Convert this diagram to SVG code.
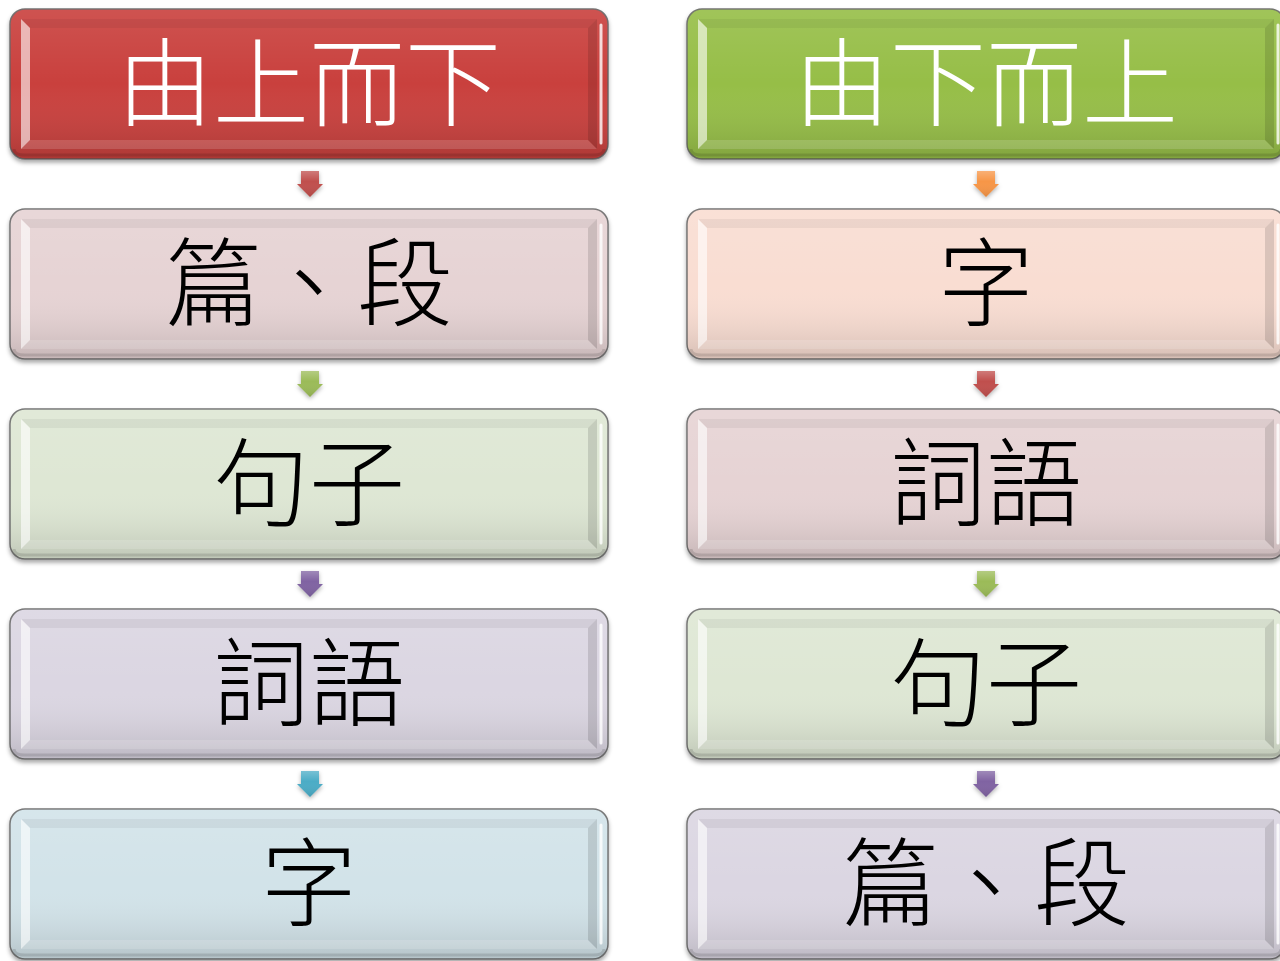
<svg xmlns="http://www.w3.org/2000/svg" xmlns:xlink="http://www.w3.org/1999/xlink" width="1280" height="961" viewBox="0 0 1280 961">
<style>
  .box { stroke: #5e5e5e; stroke-width: 1.5; stroke-opacity: 0.85; }
  .lbl { font-family: "Noto Sans CJK TC", "Noto Sans CJK SC", sans-serif; font-size: 96px; font-weight: 300; text-anchor: middle; dominant-baseline: central; fill: #000; }
  .lbl.w { fill: #fff; }
  .arr { filter: url(#ashadow); }
</style>
<defs>
  <filter id="shadow" x="-5%" y="-10%" width="110%" height="125%">
    <feDropShadow dx="0" dy="3" stdDeviation="2" flood-color="#000" flood-opacity="0.35"/>
  </filter>
  <filter id="ashadow" x="-50%" y="-50%" width="200%" height="200%">
    <feDropShadow dx="0" dy="2" stdDeviation="2" flood-color="#000" flood-opacity="0.3"/>
  </filter>
  <linearGradient id="shade" x1="0" y1="0" x2="0" y2="1">
    <stop offset="0" stop-color="#fff" stop-opacity="0.1"/>
    <stop offset="0.5" stop-color="#fff" stop-opacity="0"/>
    <stop offset="1" stop-color="#000" stop-opacity="0.14"/>
  </linearGradient>
  <linearGradient id="ashade" x1="0" y1="0" x2="0" y2="1">
    <stop offset="0" stop-color="#fff" stop-opacity="0.25"/>
    <stop offset="0.4" stop-color="#fff" stop-opacity="0"/>
    <stop offset="1" stop-color="#000" stop-opacity="0.1"/>
  </linearGradient>
  <g id="bevel">
    <rect x="0" y="0" width="598" height="150" rx="15" fill="url(#shade)"/>
    <polygon points="11,10 587,10 578,19 20,19" fill="#000" fill-opacity="0.05"/>
    <polygon points="11,140 20,131 578,131 587,140" fill="#fff" fill-opacity="0.15"/>
    <polygon points="587,10 587,140 578,131 578,19" fill="#000" fill-opacity="0.12"/>
    <polygon points="11,10 20,19 20,131 11,140" fill="#fff" fill-opacity="0.6"/>
    <line x1="591" y1="16" x2="591" y2="134" stroke="#fff" stroke-width="3" stroke-opacity="0.8" stroke-linecap="round"/>
    <path d="M4,140 Q4,146 15,146 H583 Q594,146 594,140" fill="none" stroke="#000" stroke-opacity="0.12" stroke-width="3"/>
  </g>
</defs>
<rect width="1280" height="961" fill="#fff"/>

<g id="connectors">
  <g class="arr">
    <path d="M301,171 h18 v13 h4 l-13,13 l-13,-13 h4 z" fill="#c0504d"/>
    <path d="M301,371 h18 v13 h4 l-13,13 l-13,-13 h4 z" fill="#9bbb59"/>
    <path d="M301,571 h18 v13 h4 l-13,13 l-13,-13 h4 z" fill="#8064a2"/>
    <path d="M301,771 h18 v13 h4 l-13,13 l-13,-13 h4 z" fill="#4bacc6"/>
    <path d="M977,171 h18 v13 h4 l-13,13 l-13,-13 h4 z" fill="#f79646"/>
    <path d="M977,371 h18 v13 h4 l-13,13 l-13,-13 h4 z" fill="#c0504d"/>
    <path d="M977,571 h18 v13 h4 l-13,13 l-13,-13 h4 z" fill="#9bbb59"/>
    <path d="M977,771 h18 v13 h4 l-13,13 l-13,-13 h4 z" fill="#8064a2"/>
  </g>
  <g fill="url(#ashade)">
    <path d="M301,171 h18 v13 h4 l-13,13 l-13,-13 h4 z"/>
    <path d="M301,371 h18 v13 h4 l-13,13 l-13,-13 h4 z"/>
    <path d="M301,571 h18 v13 h4 l-13,13 l-13,-13 h4 z"/>
    <path d="M301,771 h18 v13 h4 l-13,13 l-13,-13 h4 z"/>
    <path d="M977,171 h18 v13 h4 l-13,13 l-13,-13 h4 z"/>
    <path d="M977,371 h18 v13 h4 l-13,13 l-13,-13 h4 z"/>
    <path d="M977,571 h18 v13 h4 l-13,13 l-13,-13 h4 z"/>
    <path d="M977,771 h18 v13 h4 l-13,13 l-13,-13 h4 z"/>
  </g>
</g>

<g id="left-title" transform="translate(10,9)">
  <rect class="box" width="598" height="150" rx="15" fill="#c9403e" filter="url(#shadow)"/>
  <use xlink:href="#bevel"/>
  <text class="lbl w" x="299" y="67">由上而下</text>
</g>
<g id="left-1" transform="translate(10,209)">
  <rect class="box" width="598" height="150" rx="15" fill="#e6d3d4" filter="url(#shadow)"/>
  <use xlink:href="#bevel"/>
  <text class="lbl" x="299" y="67">篇、段</text>
</g>
<g id="left-2" transform="translate(10,409)">
  <rect class="box" width="598" height="150" rx="15" fill="#dee7d4" filter="url(#shadow)"/>
  <use xlink:href="#bevel"/>
  <text class="lbl" x="299" y="67">句子</text>
</g>
<g id="left-3" transform="translate(10,609)">
  <rect class="box" width="598" height="150" rx="15" fill="#dbd6e2" filter="url(#shadow)"/>
  <use xlink:href="#bevel"/>
  <text class="lbl" x="299" y="67">詞語</text>
</g>
<g id="left-4" transform="translate(10,809)">
  <rect class="box" width="598" height="150" rx="15" fill="#d2e3e9" filter="url(#shadow)"/>
  <use xlink:href="#bevel"/>
  <text class="lbl" x="299" y="67">字</text>
</g>

<g id="right-title" transform="translate(687,9)">
  <rect class="box" width="598" height="150" rx="15" fill="#96be47" filter="url(#shadow)"/>
  <use xlink:href="#bevel"/>
  <text class="lbl w" x="299" y="67">由下而上</text>
</g>
<g id="right-1" transform="translate(687,209)">
  <rect class="box" width="598" height="150" rx="15" fill="#f9ddd2" filter="url(#shadow)"/>
  <use xlink:href="#bevel"/>
  <text class="lbl" x="299" y="67">字</text>
</g>
<g id="right-2" transform="translate(687,409)">
  <rect class="box" width="598" height="150" rx="15" fill="#e6d3d4" filter="url(#shadow)"/>
  <use xlink:href="#bevel"/>
  <text class="lbl" x="299" y="67">詞語</text>
</g>
<g id="right-3" transform="translate(687,609)">
  <rect class="box" width="598" height="150" rx="15" fill="#dee7d4" filter="url(#shadow)"/>
  <use xlink:href="#bevel"/>
  <text class="lbl" x="299" y="67">句子</text>
</g>
<g id="right-4" transform="translate(687,809)">
  <rect class="box" width="598" height="150" rx="15" fill="#dbd6e2" filter="url(#shadow)"/>
  <use xlink:href="#bevel"/>
  <text class="lbl" x="299" y="67">篇、段</text>
</g>
</svg>
